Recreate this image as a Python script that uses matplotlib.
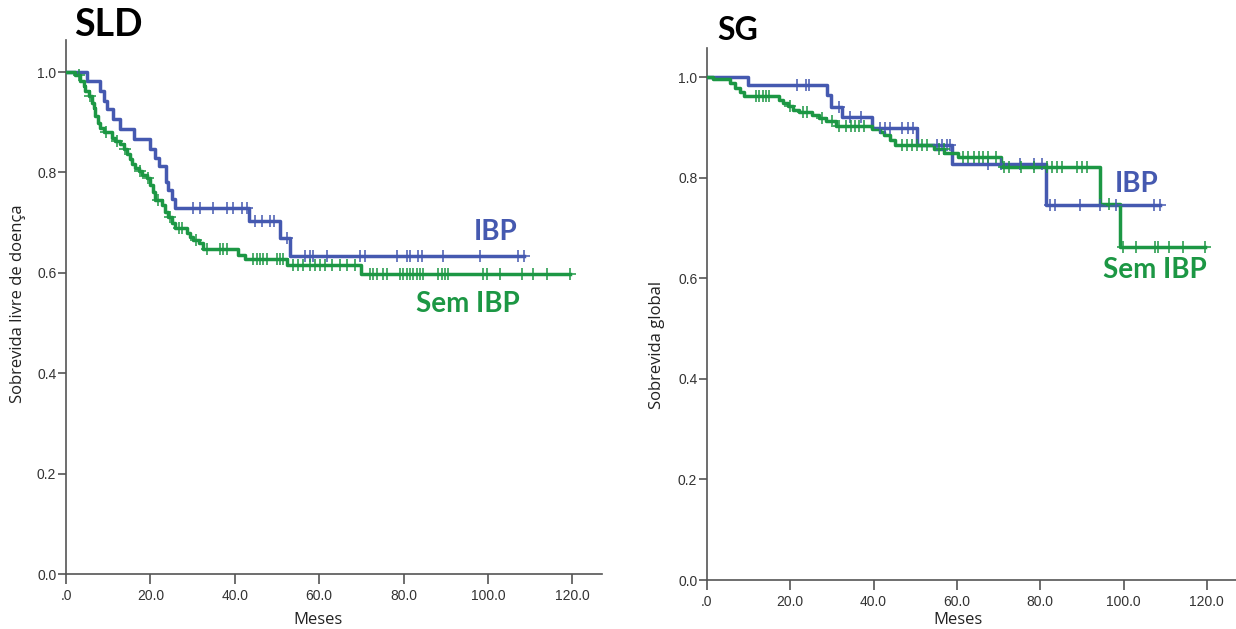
"""
Curvas de Kaplan-Meier: SLD (sobrevida livre de doença) e SG (sobrevida global),
IBP vs Sem IBP. Valores lidos da figura original.
"""

import matplotlib
matplotlib.use("Agg")
import matplotlib.pyplot as plt
import numpy as np

BLUE = "#4559b0"
GREEN = "#1c9744"

# --- SLD, IBP ---
sld_ibp_t = [0, 5.0, 8.1, 8.9, 9.7, 11.1, 12.9, 16.1, 20.0, 21.2, 22.0, 23.6, 24.2, 25.0,
             25.8, 43.3, 50.7, 53.0]
sld_ibp_s = [1.0, 0.982, 0.962, 0.942, 0.926, 0.906, 0.886, 0.866, 0.846, 0.829, 0.813, 0.781,
             0.765, 0.748, 0.730, 0.703, 0.669, 0.634]
sld_ibp_end = 108.5
sld_ibp_cens = [30.2, 31.8, 34.9, 38.1, 39.6, 41.6, 42.8, 44.8, 46.4, 48.3, 49.2, 52.3,
                56.6, 57.8, 58.5, 61.8, 69.7, 70.9, 78.4, 80.8, 81.5, 83.4, 84.4, 89.3,
                98.1, 107.1, 108.5]

# --- SLD, Sem IBP ---
sld_sem_t = [0, 2.2, 3.4, 4.2, 4.6, 5.4, 6.2, 6.6, 6.9, 7.7, 8.1, 8.9, 10.9, 11.7, 12.9,
             13.7, 14.5, 15.2, 15.6, 16.4, 17.2, 18.0, 19.2, 20.0, 20.5, 21.2, 22.7, 23.5,
             24.2, 25.0, 25.8, 28.6, 29.4, 30.2, 31.4, 32.5, 40.8, 42.4, 52.4, 70.0]
sld_sem_s = [1.0, 0.994, 0.982, 0.972, 0.962, 0.952, 0.939, 0.929, 0.912, 0.899, 0.889,
             0.880, 0.869, 0.863, 0.856, 0.846, 0.836, 0.826, 0.816, 0.809, 0.803, 0.796,
             0.789, 0.775, 0.762, 0.745, 0.735, 0.722, 0.712, 0.699, 0.689, 0.679, 0.672,
             0.665, 0.659, 0.648, 0.636, 0.627, 0.616, 0.598]
sld_sem_end = 119.5
sld_sem_cens = [3.0, 5.8, 9.5, 12.2, 14.0, 17.6, 19.5, 21.8, 24.6, 26.8, 27.4, 30.8, 33.5,
                36.5, 37.2, 38.1, 44.3, 45.3, 46.0, 46.7, 47.6, 50.0, 50.7, 51.4,
                53.8, 55.0, 56.2, 57.8, 59.0, 60.2, 61.4, 63.0, 65.0, 66.6, 68.5,
                72.0, 72.7, 73.7, 75.1, 76.1, 79.1, 79.9, 80.8, 81.5, 82.2, 83.2, 83.9,
                84.6, 88.2, 89.1, 89.8, 90.5, 98.8, 99.8, 102.8, 108.0, 110.7, 114.0, 119.5]

# --- SG, IBP ---
sg_ibp_t = [0, 9.8, 28.9, 29.7, 32.5, 39.6, 50.5, 58.7, 81.3]
sg_ibp_s = [1.0, 0.984, 0.964, 0.941, 0.921, 0.898, 0.866, 0.828, 0.746]
sg_ibp_end = 108.7
sg_ibp_cens = [21.7, 23.7, 24.5, 31.7, 34.3, 37.0, 41.6, 42.8, 44.0, 46.7, 48.3, 49.5,
               55.1, 56.3, 57.5, 58.3, 67.4, 70.5, 75.2, 78.6, 80.5,
               82.4, 83.6, 89.5, 94.3, 98.3, 107.4, 108.7]

# --- SG, Sem IBP ---
sg_sem_t = [0, 1.5, 5.5, 6.7, 7.9, 9.0, 17.4, 18.2, 19.4, 20.6, 22.1, 25.3, 26.9, 28.5,
            30.9, 39.6, 41.6, 42.4, 44.0, 45.2, 54.5, 57.0, 60.2, 70.5, 94.4, 99.1]
sg_sem_s = [1.0, 0.996, 0.988, 0.978, 0.970, 0.962, 0.955, 0.948, 0.942, 0.935, 0.931,
            0.925, 0.918, 0.912, 0.903, 0.897, 0.890, 0.884, 0.876, 0.866, 0.858, 0.850,
            0.842, 0.822, 0.748, 0.663]
sg_sem_end = 119.5
sg_sem_cens = [11.8, 12.6, 13.4, 14.2, 15.0, 20.0, 23.0, 24.0, 27.5, 30.0,
               31.7, 33.3, 34.5, 35.6, 36.4, 37.6, 46.7, 47.9, 49.1, 50.3, 51.5, 52.7,
               55.6, 56.8, 61.4, 62.6, 64.2, 65.4, 66.2, 67.4, 69.4,
               71.4, 72.5, 75.3, 78.5, 81.7, 82.9, 84.0, 85.2, 88.8, 90.0, 91.2, 96.5,
               99.9, 103.1, 107.5, 108.3, 111.0, 114.2, 119.5]

x_ticks = [0, 20, 40, 60, 80, 100, 120]
x_ticklabels = [".0", "20.0", "40.0", "60.0", "80.0", "100.0", "120.0"]
y_ticks = [0.0, 0.2, 0.4, 0.6, 0.8, 1.0]
y_ticklabels = ["0.0", "0.2", "0.4", "0.6", "0.8", "1.0"]

TICK_FONT = dict(family="Liberation Sans", size=10, color="#333333")
LABEL_FONT = dict(family="Open Sans", size=12, color="#222222")
NOTE_FONT = dict(family="Lato", weight="bold", size=20)


def km(ax, t, s, end, cens, color):
    t = np.asarray(t, float)
    s = np.asarray(s, float)
    tt = np.append(t, end)
    ss = np.append(s, s[-1])
    ax.step(tt, ss, where="post", color=color, lw=2.5, zorder=3)
    c = np.asarray(cens, float)
    idx = np.searchsorted(t, c, side="right") - 1
    ax.plot(c, s[idx], ls="none", marker="+", ms=8, mew=1.1, color=color, zorder=4)


def style(ax, ylabel, ylabel_xy, xlabel_xy, ytop):
    ax.set_xlim(0, 127)
    ax.set_ylim(0, ytop)
    for side in ("top", "right"):
        ax.spines[side].set_visible(False)
    for side in ("left", "bottom"):
        ax.spines[side].set_color("#555555")
        ax.spines[side].set_linewidth(1.2)
    ax.set_xticks(x_ticks)
    ax.set_xticklabels(x_ticklabels, **TICK_FONT)
    ax.set_yticks(y_ticks)
    ax.set_yticklabels(y_ticklabels, **TICK_FONT)
    ax.tick_params(axis="x", length=7, width=1.2, color="#555555", pad=4)
    ax.tick_params(axis="y", length=6, width=1.2, color="#555555", pad=1)
    ax.set_xlabel("Meses", **LABEL_FONT)
    ax.set_ylabel(ylabel, **LABEL_FONT)
    ax.xaxis.set_label_coords(*xlabel_xy)
    ax.yaxis.set_label_coords(*ylabel_xy)


fig = plt.figure(figsize=(12.36, 6.29), dpi=100)

# painel esquerdo: SLD
ax1 = fig.add_axes([66 / 1236, 55 / 629, 536 / 1236, 534 / 629])
km(ax1, sld_ibp_t, sld_ibp_s, sld_ibp_end, sld_ibp_cens, BLUE)
km(ax1, sld_sem_t, sld_sem_s, sld_sem_end, sld_sem_cens, GREEN)
style(ax1, "Sobrevida livre de doença", (-0.075, 0.507), (0.47, -0.071), 1.064)
ax1.text(101.9, 0.681, "IBP", color=BLUE, ha="center", va="center", **NOTE_FONT)
ax1.text(95.3, 0.538, "Sem IBP", color=GREEN, ha="center", va="center", **NOTE_FONT)

# painel direito: SG
ax2 = fig.add_axes([707 / 1236, 49 / 629, 529 / 1236, 532 / 629])
km(ax2, sg_ibp_t, sg_ibp_s, sg_ibp_end, sg_ibp_cens, BLUE)
km(ax2, sg_sem_t, sg_sem_s, sg_sem_end, sg_sem_cens, GREEN)
style(ax2, "Sobrevida global", (-0.079, 0.442), (0.474, -0.060), 1.058)
ax2.text(103.1, 0.787, "IBP", color=BLUE, ha="center", va="center", **NOTE_FONT)
ax2.text(107.6, 0.616, "Sem IBP", color=GREEN, ha="center", va="center", **NOTE_FONT)

fig.text(108 / 1236, 1 - 25 / 629, "SLD", ha="center", va="center",
         family="Lato", weight="bold", size=27, color="black")
fig.text(738 / 1236, 1 - 30 / 629, "SG", ha="center", va="center",
         family="Lato", weight="bold", size=23, color="black")

fig.savefig("out.png", dpi=100, facecolor="white")
